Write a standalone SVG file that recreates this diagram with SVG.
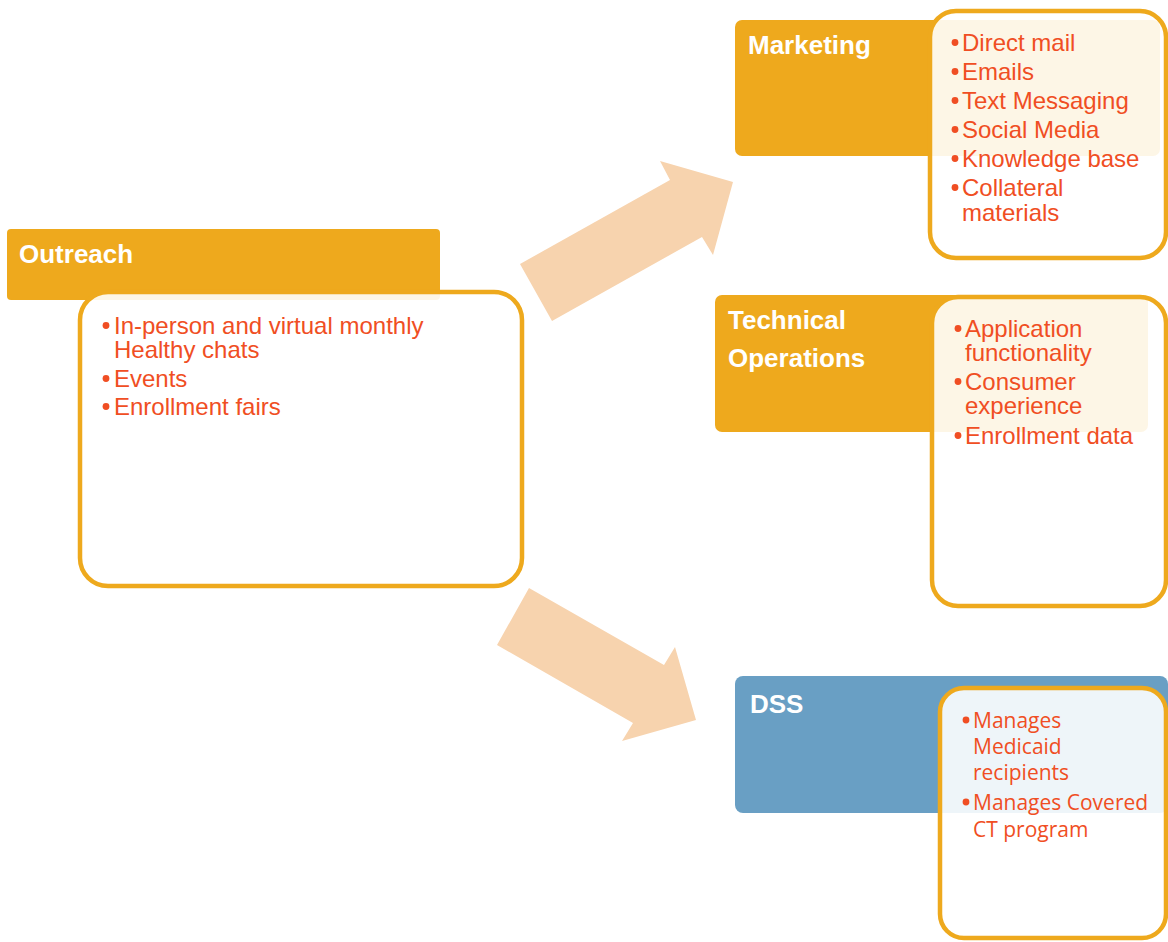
<svg xmlns="http://www.w3.org/2000/svg" width="1168" height="942" viewBox="0 0 1168 942">
<style>
.hdr{fill:#EEA91D}
.hdrb{fill:#699FC4}
.box{fill:#FFFFFF;fill-opacity:0.89;stroke:#EEA91D;stroke-width:4.5}
.ht{font-family:"Liberation Sans",Arial,sans-serif;font-weight:bold;font-size:26px;fill:#FFFFFF}
.bt{font-family:"Liberation Sans",Arial,sans-serif;font-size:24px;fill:#F04E23}
.bd{fill:#F04E23}
.ct{font-family:"Open Sans","Noto Sans",sans-serif;font-size:21px;fill:#F04E23}
.arrow{fill:#F7D3AE}
</style>
<rect width="1168" height="942" fill="#FFFFFF"/>
<g id="connectors">
<polygon class="arrow" points="520,264 552,321 702,237 713,255 733,182 660,161 670,180"/>
<polygon class="arrow" points="529,588 497,645 633,723 622,741 696,720 675,647 664,665"/>
</g>
<g id="outreach">
<rect class="hdr" x="7" y="229" width="433" height="71" rx="4"/>
<text class="ht" x="19" y="263">Outreach</text>
<rect class="box" x="80" y="292" width="442" height="294" rx="28"/>
<circle class="bd" cx="106" cy="325.5" r="3.4"/>
<text class="bt" x="114" y="334">In-person and virtual monthly</text>
<text class="bt" x="114" y="358">Healthy chats</text>
<circle class="bd" cx="106" cy="378.5" r="3.4"/>
<text class="bt" x="114" y="387">Events</text>
<circle class="bd" cx="106" cy="406.5" r="3.4"/>
<text class="bt" x="114" y="415">Enrollment fairs</text>
</g>
<g id="marketing">
<rect class="hdr" x="735" y="20" width="425" height="136" rx="7"/>
<text class="ht" x="748" y="54">Marketing</text>
<rect class="box" x="930" y="11" width="236" height="247" rx="26"/>
<circle class="bd" cx="955" cy="42.5" r="3.4"/><text class="bt" x="962" y="51">Direct mail</text>
<circle class="bd" cx="955" cy="71.5" r="3.4"/><text class="bt" x="962" y="80">Emails</text>
<circle class="bd" cx="955" cy="100.5" r="3.4"/><text class="bt" x="962" y="109">Text Messaging</text>
<circle class="bd" cx="955" cy="129.5" r="3.4"/><text class="bt" x="962" y="138">Social Media</text>
<circle class="bd" cx="955" cy="158.5" r="3.4"/><text class="bt" x="962" y="167">Knowledge base</text>
<circle class="bd" cx="955" cy="187.5" r="3.4"/><text class="bt" x="962" y="196">Collateral</text>
<text class="bt" x="962" y="221">materials</text>
</g>
<g id="technical-operations">
<rect class="hdr" x="715" y="295" width="433" height="137" rx="7"/>
<text class="ht" x="728" y="329">Technical</text>
<text class="ht" x="728" y="367">Operations</text>
<rect class="box" x="932" y="297" width="234" height="309" rx="26"/>
<circle class="bd" cx="958" cy="328.5" r="3.4"/><text class="bt" x="965" y="337">Application</text>
<text class="bt" x="965" y="361">functionality</text>
<circle class="bd" cx="958" cy="381.5" r="3.4"/><text class="bt" x="965" y="390">Consumer</text>
<text class="bt" x="965" y="414">experience</text>
<circle class="bd" cx="958" cy="435.5" r="3.4"/><text class="bt" x="965" y="444">Enrollment data</text>
</g>
<g id="dss">
<rect class="hdrb" x="735" y="676" width="433" height="137" rx="8"/>
<text class="ht" x="750" y="713">DSS</text>
<rect class="box" x="940" y="688" width="226" height="250" rx="24"/>
<circle class="bd" cx="966" cy="720" r="3.4"/><text class="ct" x="973" y="728">Manages</text>
<text class="ct" x="973" y="754">Medicaid</text>
<text class="ct" x="973" y="780">recipients</text>
<circle class="bd" cx="966" cy="802" r="3.4"/><text class="ct" x="973" y="810">Manages Covered</text>
<text class="ct" x="973" y="837">CT program</text>
</g>
</svg>
